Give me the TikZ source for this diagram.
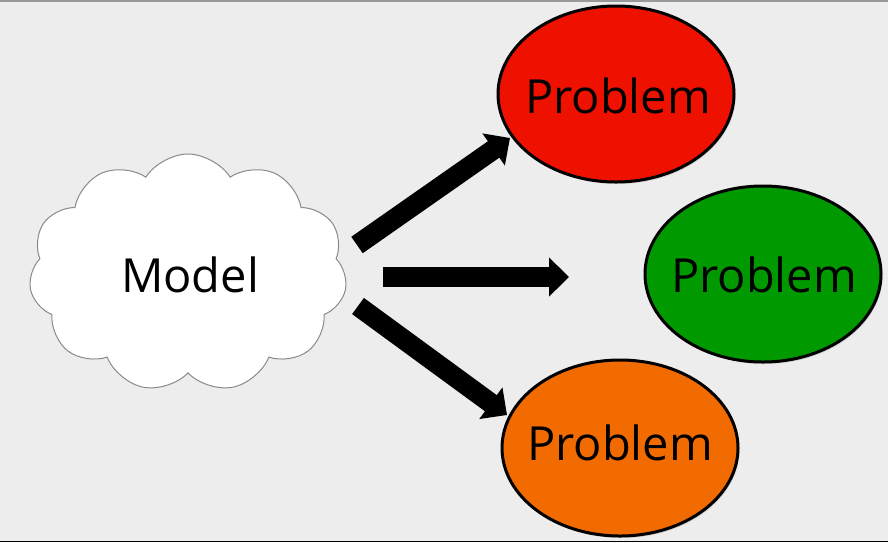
\documentclass[tikz,border=0pt]{standalone}
\usepackage{fontspec}
\setmainfont{Open Sans}
\usetikzlibrary{shapes.geometric,shapes.symbols,arrows.meta,shadows}
\definecolor{bg}{HTML}{EDEDED}
\definecolor{pred}{HTML}{EE1100}
\definecolor{pgreen}{HTML}{009A00}
\definecolor{porange}{HTML}{F26B00}
\definecolor{cloudline}{HTML}{8A8A8A}
\tikzset{
  blob/.style={ellipse, draw=black, line width=3pt, minimum width=236pt, minimum height=176pt, inner sep=0pt,
    drop shadow={shadow xshift=1.5pt, shadow yshift=-2pt, opacity=0.25}},
  txt/.style={anchor=base, inner sep=0pt, font=\fontsize{47}{50}\selectfont},
  bigarrow/.style={line width=20pt, black, -{Triangle[length=20pt,width=38pt]}},
}
\begin{document}
\begin{tikzpicture}[x=1pt,y=-1pt]
\useasboundingbox (0,0) rectangle (888,542);
\fill[bg] (0,0) rectangle (888,542);
\fill[black!40] (0,0) rectangle (888,1.5);
\fill[black] (0,540.5) rectangle (888,542);
% cloud
\node (cloud) [cloud, cloud puffs=11, cloud puff arc=115, aspect=1.35, draw=cloudline, line width=1pt, fill=white,
  minimum width=318pt, minimum height=238pt, inner sep=0pt] at (188,273) {};
\node (model) [txt] at (190,292) {Model};
% problems
\node (p1) [blob, fill=pred] at (616,94) {};
\node (t1) [txt] at (618,113) {Problem};
\node (p2) [blob, fill=pgreen] at (763,274) {};
\node (t2) [txt] at (764,292) {Problem};
\node (p3) [blob, fill=porange] at (620,448) {};
\node (t3) [txt] at (620,460) {Problem};
% arrows
\coordinate (a1s) at (357,245);
\coordinate (a1e) at (510,138);
\coordinate (a2s) at (383,277);
\coordinate (a2e) at (569,277);
\coordinate (a3s) at (358,306);
\coordinate (a3e) at (507,415);
\draw[bigarrow] (a1s) -- (a1e);
\draw[bigarrow] (a2s) -- (a2e);
\draw[bigarrow] (a3s) -- (a3e);
\end{tikzpicture}
\end{document}
